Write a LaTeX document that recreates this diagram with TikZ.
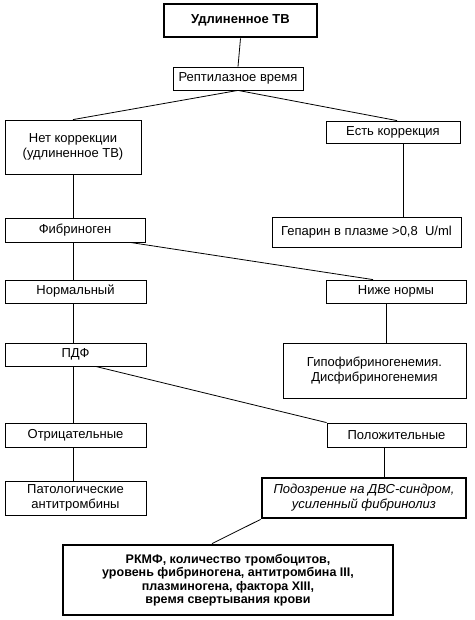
\documentclass[tikz,border=0pt]{standalone}
\usepackage{fontspec}
\setmainfont{Liberation Sans}
\begin{document}
\begin{tikzpicture}[x=1pt,y=-1pt,
  box/.style={draw, line width=0.8pt, fill=white, inner sep=0pt, align=center, font=\fontsize{13}{15}\selectfont},
  bbox/.style={box, line width=2.8pt},
  ln/.style={line width=0.8pt}]
\useasboundingbox (0,0) rectangle (474,620);
\newcommand{\bx}[7]{\node[#1, minimum width=#4-#3, minimum height=#6-#5] (#2) at ({(#3+#4)/2},{(#5+#6)/2}) {#7};}
\bx{bbox}{top}{164}{317}{4}{37}{\bfseries Удлиненное ТВ}
\bx{box}{rept}{173}{303}{67}{90}{Рептилазное время}
\bx{box}{net}{5}{141}{120}{174}{Нет коррекции\\(удлиненное ТВ)}
\bx{box}{est}{326}{460}{121}{143}{Есть коррекция}
\bx{box}{fib}{5}{145}{218}{242}{Фибриноген}
\bx{box}{hep}{272}{461}{217}{247}{Гепарин в плазме >0,8\ \ U/ml}
\bx{box}{norm}{5}{146}{280}{303}{Нормальный}
\bx{box}{nizhe}{326}{466}{280}{303}{Ниже нормы}
\bx{box}{pdf}{5}{146}{343}{366}{ПДФ}
\bx{box}{gipo}{283}{466}{343}{398}{Гипофибриногенемия.\\Дисфибриногенемия}
\bx{box}{otr}{5}{146}{423}{447}{Отрицательные}
\bx{box}{pol}{327}{466}{423}{447}{Положительные}
\bx{box}{pat}{5}{146}{481}{515}{Патологические\\антитромбины}
\bx{bbox}{pod}{262}{466}{478}{518}{\itshape Подозрение на ДВС-синдром,\\\itshape усиленный фибринолиз}
\node[bbox, minimum width=330, minimum height=70, font=\bfseries\fontsize{12.5}{13.5}\selectfont] (rkmf) at (228,580) {РКМФ, количество тромбоцитов,\\уровень фибриногена, антитромбина III,\\плазминогена, фактора XIII,\\время свертывания крови};
\draw[ln] (top.south) -- (rept.north);
\draw[ln] (rept.south) -- (net.north);
\draw[ln] (rept.south) -- ([xshift=4pt]est.north);
\draw[ln] (net.south) -- (net.south |- fib.north);
\draw[ln] ([xshift=10pt]est.south) -- ([xshift=10pt]est.south |- hep.north);
\draw[ln] ([xshift=55pt]fib.south) -- ([xshift=-23pt]nizhe.north);
\draw[ln] (net.south |- fib.south) -- (net.south |- norm.north);
\draw[ln] (net.south |- norm.south) -- (net.south |- pdf.north);
\draw[ln] ([xshift=-10pt]nizhe.south) -- ([xshift=-10pt]nizhe.south |- gipo.north);
\draw[ln] ([xshift=20pt]pdf.south) -- (pol.north west);
\draw[ln] (net.south |- pdf.south) -- (net.south |- otr.north);
\draw[ln] (net.south |- otr.south) -- (net.south |- pat.north);
\draw[ln] ([xshift=-12pt]pol.south) -- ([xshift=-12pt]pol.south |- pod.north);
\draw[ln] (pod.south west) -- ([xshift=-16pt]rkmf.north);
\end{tikzpicture}
\end{document}
